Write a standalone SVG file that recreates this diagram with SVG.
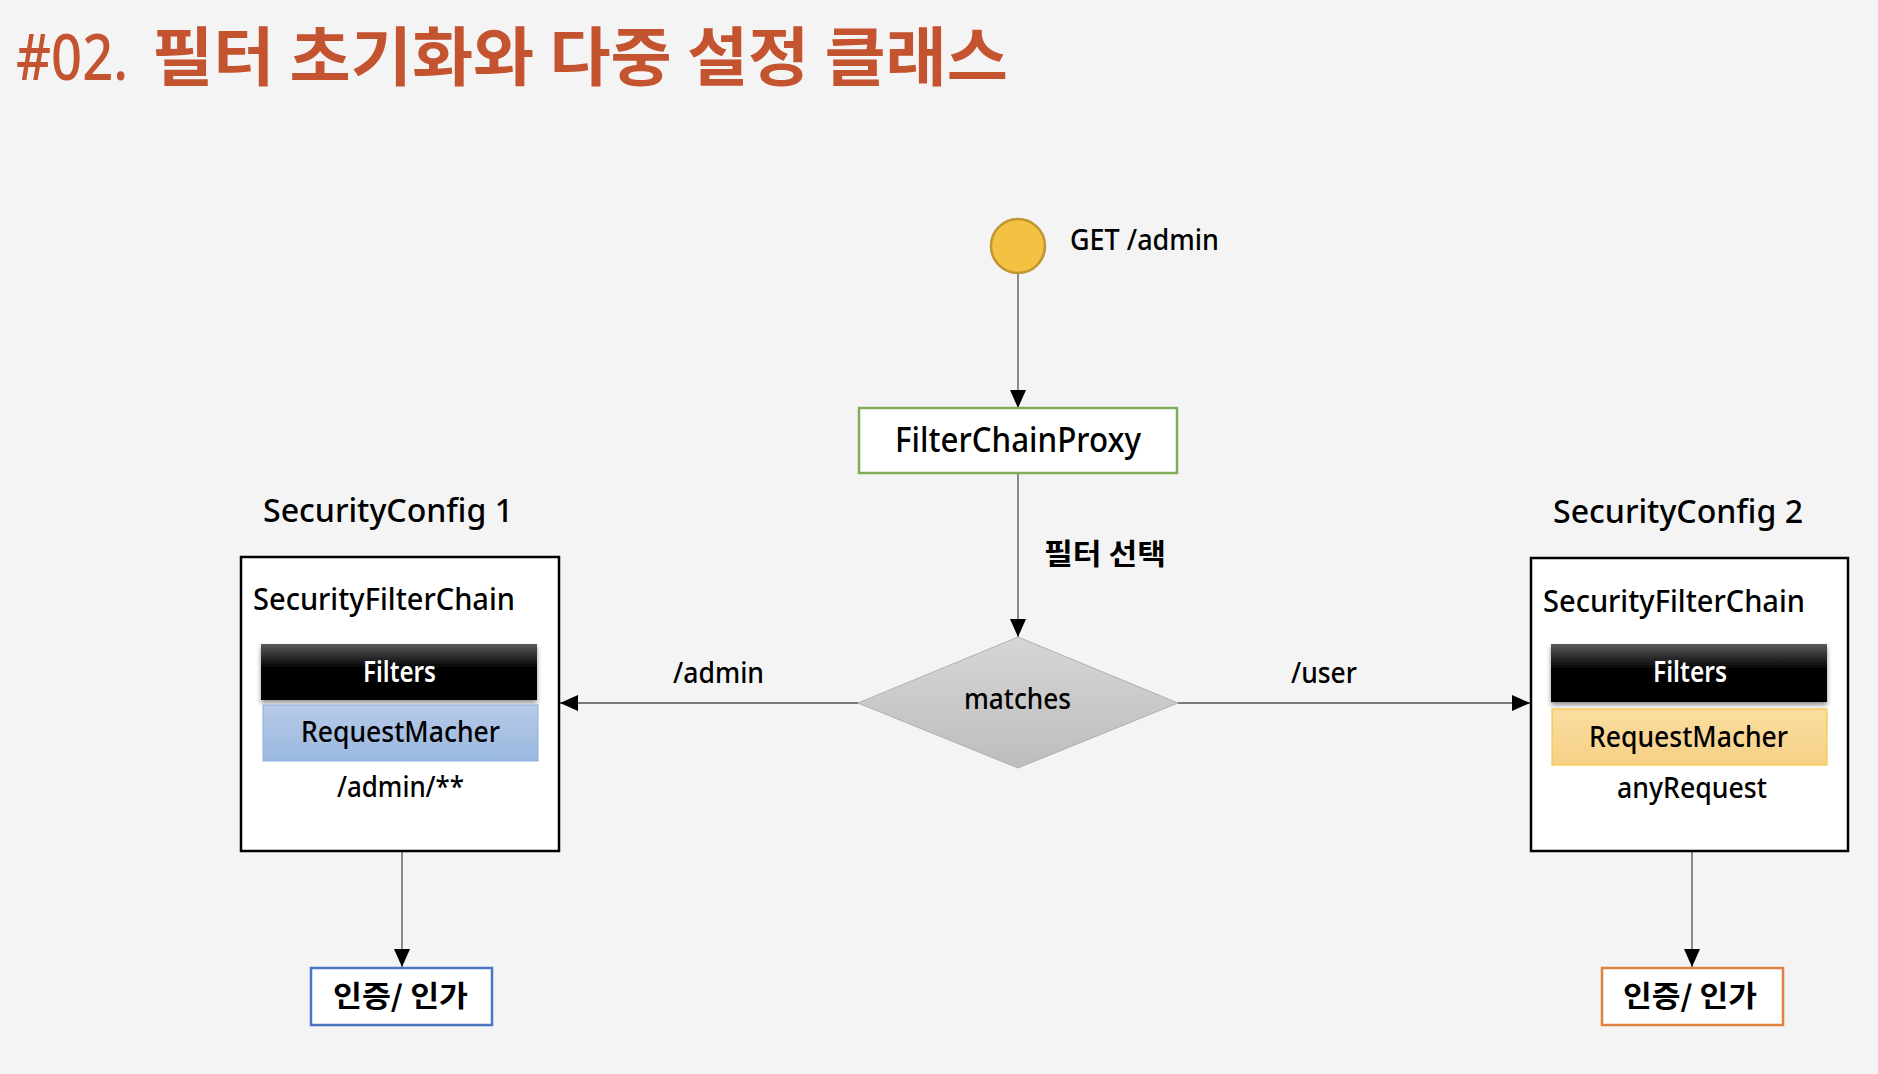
<svg xmlns="http://www.w3.org/2000/svg" width="1878" height="1074" viewBox="0 0 1878 1074">
<defs>
<style>
.t{font-family:"Noto Sans","Open Sans","Liberation Sans","Noto Sans CJK KR",sans-serif;font-weight:500;fill:#000}
.k{font-family:"Noto Sans CJK KR","Noto Sans",sans-serif;font-weight:700;fill:#000}
.w{fill:#fff;font-weight:600}
.box{fill:#fff;stroke:#000;stroke-width:2.5}
.vline{stroke:#7f7f7f;stroke-width:1.8;fill:none}
.hline{stroke:#000;stroke-width:1.2;fill:none}
</style>
<marker id="arr" markerUnits="userSpaceOnUse" markerWidth="20" markerHeight="18" refX="18" refY="8" orient="auto">
<path d="M0,0 L18,8 L0,16 z" fill="#000"/>
</marker>
<linearGradient id="gBlack" x1="0" y1="0" x2="0" y2="1">
<stop offset="0" stop-color="#5a5a5a"/>
<stop offset="0.45" stop-color="#000"/>
<stop offset="1" stop-color="#000"/>
</linearGradient>
<linearGradient id="gBlue" x1="0" y1="0" x2="0" y2="1">
<stop offset="0" stop-color="#b7cae8"/>
<stop offset="1" stop-color="#9ab8e0"/>
</linearGradient>
<linearGradient id="gGold" x1="0" y1="0" x2="0" y2="1">
<stop offset="0" stop-color="#fadd9f"/>
<stop offset="1" stop-color="#f6d187"/>
</linearGradient>
<linearGradient id="gGray" x1="0" y1="0" x2="0" y2="1">
<stop offset="0" stop-color="#d6d6d6"/>
<stop offset="1" stop-color="#bdbdbd"/>
</linearGradient>
<filter id="sh" x="-5%" y="-20%" width="110%" height="150%">
<feGaussianBlur in="SourceAlpha" stdDeviation="2.5"/>
<feOffset dy="3" result="b"/>
<feComponentTransfer><feFuncA type="linear" slope="0.45"/></feComponentTransfer>
<feMerge><feMergeNode/><feMergeNode in="SourceGraphic"/></feMerge>
</filter>
</defs>
<rect width="1878" height="1074" fill="#f4f4f4"/>

<g id="title">
<text x="16" y="80" font-family="Noto Sans,Open Sans,sans-serif" font-weight="500" font-size="63" fill="#c4532f" textLength="112" lengthAdjust="spacingAndGlyphs">#02.</text>
<text x="152" y="80" font-family="Noto Sans CJK KR,sans-serif" font-weight="700" font-size="64" fill="#c4532f" textLength="856" lengthAdjust="spacingAndGlyphs">필터 초기화와 다중 설정 클래스</text>
</g>

<g id="connectors">
<line class="vline" x1="1018" y1="273" x2="1018" y2="408" marker-end="url(#arr)"/>
<line class="vline" x1="1018" y1="473" x2="1018" y2="637" marker-end="url(#arr)"/>
<line class="hline" x1="858" y1="703" x2="560" y2="703" marker-end="url(#arr)"/>
<line class="hline" x1="1178" y1="703" x2="1530" y2="703" marker-end="url(#arr)"/>
<line class="vline" x1="402" y1="851" x2="402" y2="967" marker-end="url(#arr)"/>
<line class="vline" x1="1692" y1="851" x2="1692" y2="967" marker-end="url(#arr)"/>
<text class="k" x="1044" y="565" font-size="29" textLength="122" lengthAdjust="spacingAndGlyphs">필터 선택</text>
<text class="t" x="673" y="683" font-size="29" textLength="91" lengthAdjust="spacingAndGlyphs">/admin</text>
<text class="t" x="1291" y="683" font-size="29" textLength="66" lengthAdjust="spacingAndGlyphs">/user</text>
</g>

<g id="start">
<circle cx="1018" cy="246" r="27" fill="#f4c242" stroke="#bf9630" stroke-width="2.5"/>
<text class="t" x="1070" y="250" font-size="29" textLength="149" lengthAdjust="spacingAndGlyphs">GET /admin</text>
</g>

<g id="filterChainProxy">
<rect x="859" y="408" width="318" height="65" fill="#fff" stroke="#7fae5a" stroke-width="2.5"/>
<text class="t" x="895" y="452" font-size="35" textLength="246" lengthAdjust="spacingAndGlyphs">FilterChainProxy</text>
</g>

<g id="matches">
<polygon points="1018,637 1178,703 1018,768 858,703" fill="url(#gGray)" stroke="#b0b0b0" stroke-width="1"/>
<text class="t" x="964" y="709" font-size="29" textLength="107" lengthAdjust="spacingAndGlyphs">matches</text>
</g>

<g id="securityConfig1">
<text class="t" x="263" y="522" font-size="33" textLength="250" lengthAdjust="spacingAndGlyphs">SecurityConfig 1</text>
<rect class="box" x="241" y="557" width="318" height="294"/>
<text class="t" x="253" y="610" font-size="30" textLength="262" lengthAdjust="spacingAndGlyphs">SecurityFilterChain</text>
<rect x="261" y="644" width="276" height="56" fill="url(#gBlack)" filter="url(#sh)"/>
<text class="t w" x="363" y="682" font-size="29" textLength="73" lengthAdjust="spacingAndGlyphs">Filters</text>
<rect x="263" y="705" width="275" height="56" fill="url(#gBlue)" stroke="#8eb0dc" stroke-width="1"/>
<text class="t" x="301" y="742" font-size="29" textLength="199" lengthAdjust="spacingAndGlyphs">RequestMacher</text>
<text class="t" x="337" y="797" font-size="29" textLength="127" lengthAdjust="spacingAndGlyphs">/admin/**</text>
</g>

<g id="securityConfig2">
<text class="t" x="1553" y="523" font-size="33" textLength="250" lengthAdjust="spacingAndGlyphs">SecurityConfig 2</text>
<rect class="box" x="1531" y="558" width="317" height="293"/>
<text class="t" x="1543" y="612" font-size="30" textLength="262" lengthAdjust="spacingAndGlyphs">SecurityFilterChain</text>
<rect x="1551" y="644" width="276" height="58" fill="url(#gBlack)" filter="url(#sh)"/>
<text class="t w" x="1653" y="682" font-size="29" textLength="74" lengthAdjust="spacingAndGlyphs">Filters</text>
<rect x="1552" y="709" width="275" height="56" fill="url(#gGold)" stroke="#f2c746" stroke-width="1.2"/>
<text class="t" x="1589" y="747" font-size="29" textLength="199" lengthAdjust="spacingAndGlyphs">RequestMacher</text>
<text class="t" x="1617" y="798" font-size="29" textLength="150" lengthAdjust="spacingAndGlyphs">anyRequest</text>
</g>

<g id="auth1">
<rect x="311" y="968" width="181" height="57" fill="#fff" stroke="#4a76c4" stroke-width="2.5"/>
<text class="k" x="333" y="1007" font-size="29" textLength="135" lengthAdjust="spacingAndGlyphs">인증/ 인가</text>
</g>

<g id="auth2">
<rect x="1602" y="968" width="181" height="57" fill="#fff" stroke="#e0823f" stroke-width="2.5"/>
<text class="k" x="1623" y="1007" font-size="29" textLength="134" lengthAdjust="spacingAndGlyphs">인증/ 인가</text>
</g>
</svg>
